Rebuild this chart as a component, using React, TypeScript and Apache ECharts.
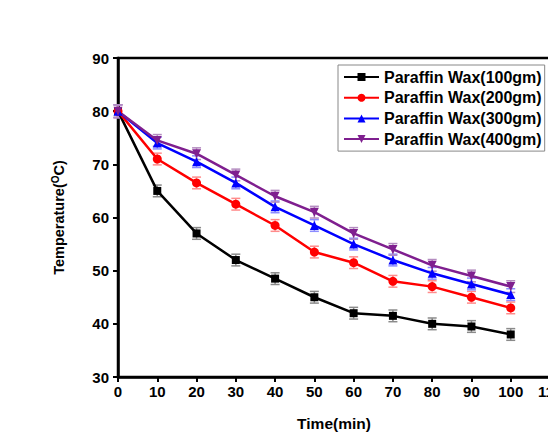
import React, { useEffect, useRef } from "react";
import * as echarts from "echarts";

const times = [0, 10, 20, 30, 40, 50, 60, 70, 80, 90, 100];
const wax100 = [80, 65, 57, 52, 48.5, 45, 42, 41.5, 40, 39.5, 38];
const wax200 = [80, 71, 66.5, 62.5, 58.5, 53.5, 51.5, 48, 47, 45, 43];
const wax300 = [80, 74, 70.5, 66.5, 62, 58.5, 55, 52, 49.5, 47.5, 45.5];
const wax400 = [80, 74.5, 72, 68, 64, 61, 57, 54, 51, 49, 47];
const errorSize = [1.2, 1.1, 1.1, 1.1, 1.1, 1.1, 1.1, 1.1, 1.1, 1.1, 1.1];
const seriesNames = [
  "Paraffin Wax(100gm)",
  "Paraffin Wax(200gm)",
  "Paraffin Wax(300gm)",
  "Paraffin Wax(400gm)",
];

export default function App() {
  const ref = useRef<HTMLDivElement>(null);
  useEffect(() => {
    if (!ref.current) return;
    const chart = echarts.init(ref.current, null, { renderer: "svg" });
    const all = [wax100, wax200, wax300, wax400];
    const colors = ["#000000", "#ff0000", "#0000ff", "#7f1f8f"];
    const errColors = ["#8a8a8a", "#ff8c8c", "#8c8cff", "#b48cc0"];
    const symbols = ["rect", "circle", "triangle", "triangle"];
    const rotates = [0, 0, 0, 180];
    const lineSeries = all.map((vals, i) => ({
      type: "line",
      name: seriesNames[i],
      data: times.map((t, j) => [t, vals[j]]),
      symbol: symbols[i],
      symbolRotate: rotates[i],
      symbolSize: i === 0 ? 8 : 9,
      lineStyle: { color: colors[i], width: 2.5 },
      itemStyle: { color: colors[i] },
      z: 3,
    }));
    const errSeries = all.map((vals, i) => ({
      type: "custom",
      name: seriesNames[i] + "_err",
      data: times.map((t, j) => [t, vals[j] - errorSize[j], vals[j] + errorSize[j]]),
      z: 2,
      renderItem: (params: any, api: any) => {
        const x = api.value(0);
        const lo = api.coord([x, api.value(1)]);
        const hi = api.coord([x, api.value(2)]);
        const w = 4.5;
        const style = { stroke: errColors[i], lineWidth: 1.5 };
        return {
          type: "group",
          children: [
            { type: "line", shape: { x1: lo[0], y1: lo[1], x2: hi[0], y2: hi[1] }, style },
            { type: "line", shape: { x1: lo[0] - w, y1: lo[1], x2: lo[0] + w, y2: lo[1] }, style },
            { type: "line", shape: { x1: hi[0] - w, y1: hi[1], x2: hi[0] + w, y2: hi[1] }, style },
          ],
        };
      },
    }));
    const axisFont = {
      fontFamily: "Liberation Sans, Arial, sans-serif",
      fontWeight: "bold" as const,
      fontSize: 15,
      color: "#000",
    };
    chart.setOption({
      animation: false,
      backgroundColor: "#fff",
      grid: {
        left: 118,
        top: 58,
        right: 6,
        bottom: 64,
        show: true,
        borderColor: "#000",
        borderWidth: 2.5,
        outerBoundsMode: "none",
        containLabel: false,
      },
      legend: {
        data: seriesNames,
        left: 338,
        top: 65,
        orient: "vertical",
        borderColor: "#888",
        borderWidth: 1,
        padding: [4, 3, 4, 5],
        itemWidth: 35,
        itemHeight: 10,
        itemGap: 4.7,
        textStyle: { ...axisFont, fontSize: 16 },
      },
      xAxis: {
        type: "value",
        min: 0,
        max: 110,
        interval: 10,
        name: "Time(min)",
        nameLocation: "middle",
        nameGap: 38,
        nameTextStyle: { ...axisFont, fontSize: 15.5 },
        axisLine: { show: true, lineStyle: { color: "#000", width: 2.5 } },
        axisTick: { show: true, inside: false, length: 5, lineStyle: { color: "#000", width: 2 } },
        axisLabel: { ...axisFont, margin: 7 },
        splitLine: { show: false },
      },
      yAxis: {
        type: "value",
        min: 30,
        max: 90,
        interval: 10,
        name: "{n|Temperature(}{s|O}{n|C)}",
        nameLocation: "middle",
        nameGap: 50,
        nameTextStyle: {
          rich: {
            n: { ...axisFont, fontSize: 14.5 },
            s: { ...axisFont, fontSize: 10, verticalAlign: "top", padding: [0, 0, 8, 0] },
          },
        },
        axisLine: { show: true, lineStyle: { color: "#000", width: 2.5 } },
        axisTick: { show: true, inside: false, length: 5, lineStyle: { color: "#000", width: 2 } },
        axisLabel: { ...axisFont, margin: 9 },
        splitLine: { show: false },
      },
      series: [...errSeries, ...lineSeries],
    });
    return () => chart.dispose();
  }, []);
  return <div ref={ref} style={{ width: 556, height: 441, margin: -8 }} />;
}
